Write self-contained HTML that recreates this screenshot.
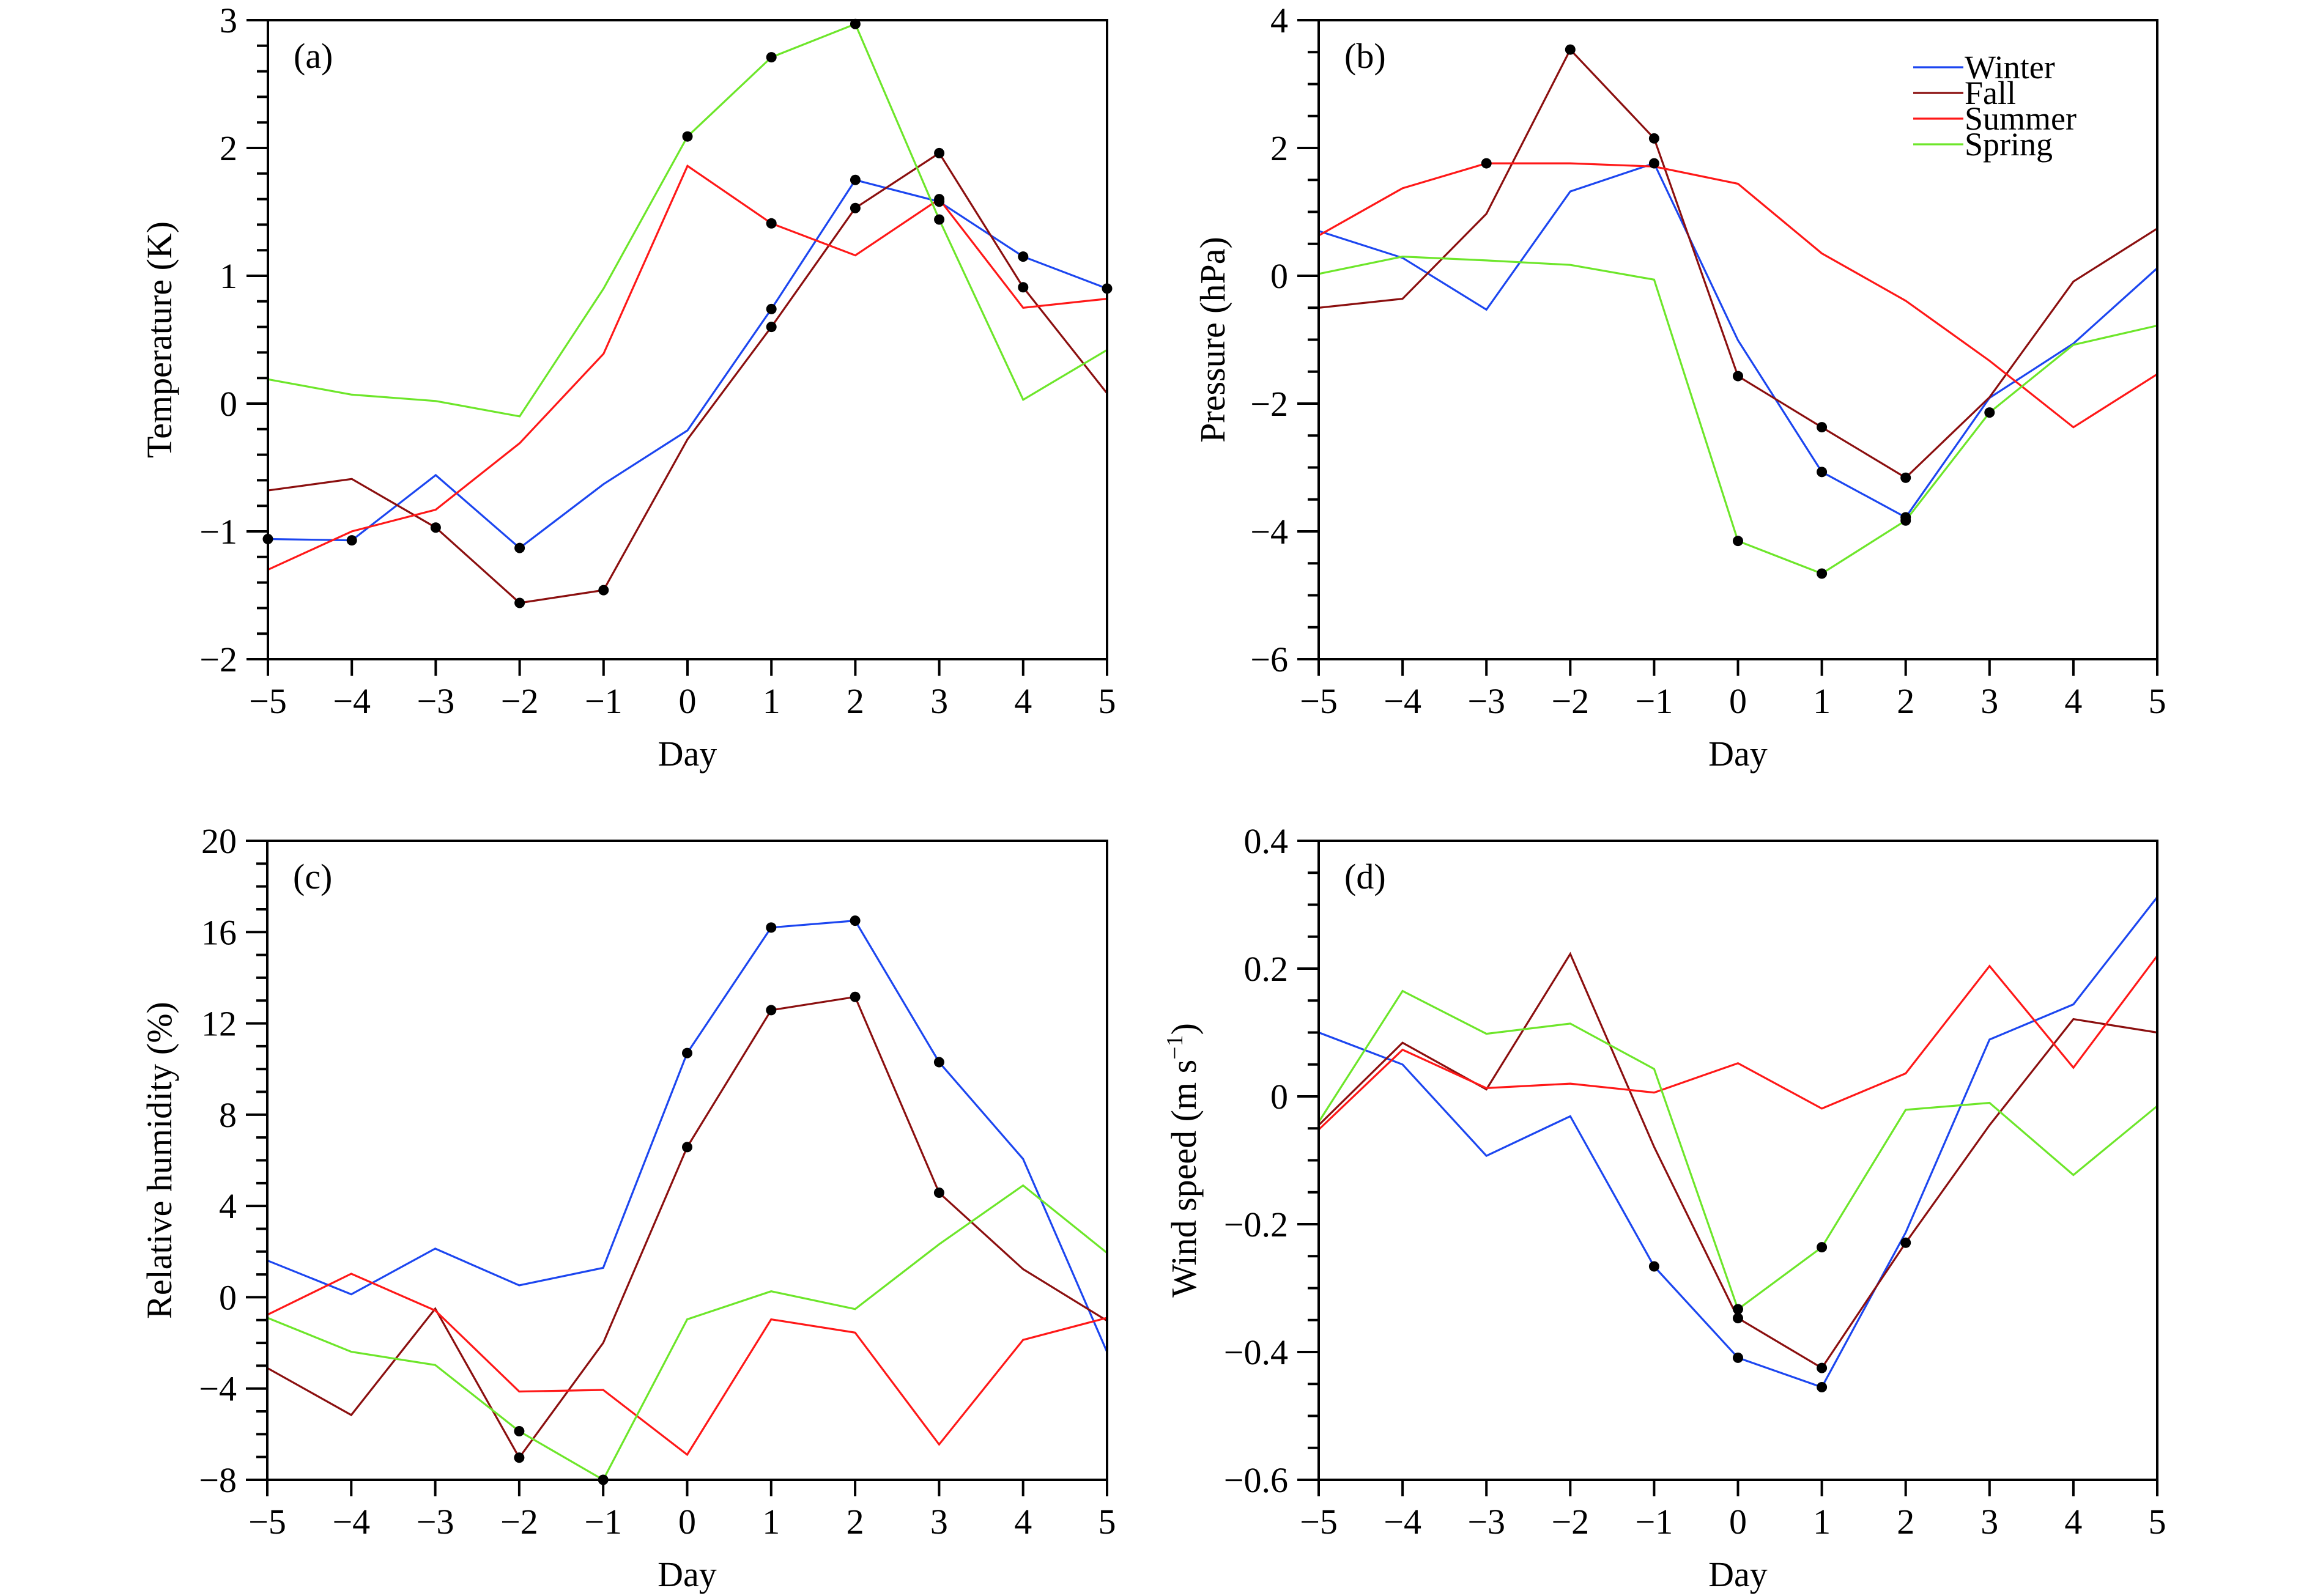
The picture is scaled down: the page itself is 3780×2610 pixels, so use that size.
<!DOCTYPE html>
<html><head><meta charset="utf-8"><style>
html,body{margin:0;padding:0;background:#fff}
svg{display:block}
text{font-family:"Liberation Serif","DejaVu Serif",serif;fill:#000}
</style></head>
<body>
<svg id="chart" width="3780" height="2610" viewBox="0 0 3780 2610" xmlns="http://www.w3.org/2000/svg"></svg>
<script>
const days = [-5,-4,-3,-2,-1,0,1,2,3,4,5];
const seasons = ["Winter","Fall","Summer","Spring"];
const colors = ["#1c46f0","#8b0f0f","#ff1818","#6de62a"];

const tempWinter = [-1.06,-1.07,-0.56,-1.13,-0.63,-0.21,0.74,1.75,1.58,1.15,0.90];
const tempFall   = [-0.68,-0.59,-0.97,-1.56,-1.46,-0.28,0.60,1.53,1.96,0.91,0.08];
const tempSummer = [-1.30,-1.00,-0.83,-0.31,0.39,1.86,1.41,1.16,1.60,0.75,0.82];
const tempSpring = [0.19,0.07,0.02,-0.10,0.90,2.09,2.71,2.97,1.44,0.03,0.42];
const tempDots = [[-5,-4,-2,1,2,3,4,5],[-3,-2,-1,1,2,3,4],[1,3],[0,1,2,3]];

const presWinter = [0.70,0.28,-0.53,1.32,1.76,-1.01,-3.07,-3.78,-1.91,-1.06,0.12];
const presFall   = [-0.50,-0.36,0.97,3.54,2.15,-1.57,-2.37,-3.16,-1.90,-0.09,0.74];
const presSummer = [0.63,1.37,1.76,1.76,1.71,1.44,0.35,-0.39,-1.33,-2.37,-1.54];
const presSpring = [0.03,0.30,0.24,0.17,-0.06,-4.15,-4.66,-3.83,-2.14,-1.08,-0.78];
const presDots = [[-1,1,2],[-2,-1,0,1,2],[-3],[0,1,2,3]];

const rhWinter = [1.61,0.13,2.13,0.52,1.29,10.7,16.2,16.5,10.3,6.06,-2.4];
const rhFall   = [-3.1,-5.16,-0.5,-7.03,-2.0,6.58,12.58,13.16,4.58,1.23,-1.03];
const rhSummer = [-0.77,1.03,-0.58,-4.13,-4.06,-6.9,-0.97,-1.55,-6.45,-1.87,-0.9];
const rhSpring = [-0.9,-2.39,-2.97,-5.87,-8.0,-0.97,0.26,-0.52,2.32,4.9,1.94];
const rhDots = [[0,1,2,3],[-2,0,1,2,3],[],[-2,-1]];

const wsWinter = [0.10,0.05,-0.093,-0.031,-0.266,-0.409,-0.455,-0.213,0.089,0.144,0.312];
const wsFall   = [-0.045,0.084,0.011,0.223,-0.079,-0.347,-0.425,-0.229,-0.045,0.121,0.100];
const wsSummer = [-0.052,0.073,0.013,0.020,0.006,0.052,-0.019,0.036,0.204,0.045,0.220];
const wsSpring = [-0.040,0.165,0.098,0.114,0.043,-0.333,-0.236,-0.021,-0.010,-0.123,-0.015];
const wsDots = [[-1,0,1],[0,1,2],[],[0,1]];

const tempTicks = ["3","2","1","0","−1","−2"];
const presTicks = ["4","2","0","−2","−4","−6"];
const rhTicks = ["20","16","12","8","4","0","−4","−8"];
const wsTicks = ["0.4","0.2","0","−0.2","−0.4","−0.6"];

const NS="http://www.w3.org/2000/svg";
const svg=document.getElementById('chart');
function mk(tag,attrs,parent){const e=document.createElementNS(NS,tag);for(const k in attrs)e.setAttribute(k,attrs[k]);(parent||svg).appendChild(e);return e;}

function panel(cfg){
  const g=mk('g',{});
  
  
  const L=cfg.x0,R=cfg.x1,T=cfg.y0,B=cfg.y1;
  const xs=d=>L+(d-days[0])/(days[days.length-1]-days[0])*(R-L);
  const ys=v=>T+(cfg.ymax-v)/(cfg.ymax-cfg.ymin)*(B-T);
  cfg.series.forEach((vals,si)=>{
    const pts=vals.map((v,i)=>xs(days[i]).toFixed(1)+','+ys(v).toFixed(1)).join(' ');
    const pl=mk('polyline',{points:pts,fill:'none',stroke:colors[si],'stroke-width':3.2,'stroke-linejoin':'miter'},g);
    
    
  });
  cfg.series.forEach((vals,si)=>{
    cfg.dots[si].forEach(d=>{
      const i=days.indexOf(d);
      const c=mk('circle',{cx:xs(d),cy:ys(vals[i]),r:8.5,fill:'#000'},g);
      
      
    });
  });
  const fr=mk('rect',{x:L,y:T,width:R-L,height:B-T,fill:'none',stroke:'#000','stroke-width':4},g);
  
  
  const n=cfg.yticks.length;
  for(let i=0;i<n;i++){
    const v=cfg.ymax-i*cfg.ystep;
    const y=ys(v);
    mk('line',{x1:L-35,x2:L,y1:y,y2:y,stroke:'#000','stroke-width':4},g);
    const t=mk('text',{x:L-50,y:y+20,'text-anchor':'end','font-size':58},g);
    t.textContent=cfg.yticks[i];
    
    
    if(i<n-1){
      for(let m=1;m<cfg.minor;m++){
        const ym=ys(v-m*cfg.ystep/cfg.minor);
        mk('line',{x1:L-18,x2:L,y1:ym,y2:ym,stroke:'#000','stroke-width':4},g);
      }
    }
  }
  days.forEach(d=>{
    const x=xs(d);
    mk('line',{x1:x,x2:x,y1:B,y2:B+27,stroke:'#000','stroke-width':4},g);
    const t=mk('text',{x:x,y:B+88,'text-anchor':'middle','font-size':58},g);
    t.textContent=d<0?'−'+(-d):String(d);
    
    
  });
  const xt=mk('text',{x:(L+R)/2,y:B+174,'text-anchor':'middle','font-size':58},g);
  xt.textContent='Day';
  
  
  const yt=mk('text',{x:0,y:0,'text-anchor':'middle','font-size':58,transform:`translate(${cfg.ytx},${(T+B)/2}) rotate(-90)`},g);
  yt.innerHTML=cfg.ytitle;
  
  
  const lb=mk('text',{x:L+42,y:T+78,'font-size':58},g);
  lb.textContent=cfg.label;
  
  
}

panel({name:'panel-a-temperature',x0:438,x1:1810,y0:33,y1:1078,ymax:3,ymin:-2,ystep:1,minor:5,yticks:tempTicks,
  series:[tempWinter,tempFall,tempSummer,tempSpring],dots:tempDots,ytitle:'Temperature (K)',ytx:280,label:'(a)'});
panel({name:'panel-b-pressure',x0:2156,x1:3527,y0:33,y1:1078,ymax:4,ymin:-6,ystep:2,minor:4,yticks:presTicks,
  series:[presWinter,presFall,presSummer,presSpring],dots:presDots,ytitle:'Pressure (hPa)',ytx:2002,label:'(b)'});
panel({name:'panel-c-relative-humidity',x0:437,x1:1810,y0:1375,y1:2420,ymax:20,ymin:-8,ystep:4,minor:4,yticks:rhTicks,
  series:[rhWinter,rhFall,rhSummer,rhSpring],dots:rhDots,ytitle:'Relative humidity (%)',ytx:280,label:'(c)'});
panel({name:'panel-d-wind-speed',x0:2156,x1:3527,y0:1375,y1:2420,ymax:0.4,ymin:-0.6,ystep:0.2,minor:4,yticks:wsTicks,
  series:[wsWinter,wsFall,wsSummer,wsSpring],dots:wsDots,ytitle:'Wind speed (m s<tspan dy="-22" font-size="38">−1</tspan><tspan dy="22">)</tspan>',ytx:1955,label:'(d)'});

const lg=mk('g',{});


seasons.forEach((s,i)=>{
  const y=110+i*42;
  const ln=mk('line',{x1:3128,x2:3210,y1:y,y2:y,stroke:colors[i],'stroke-width':3.2},lg);
  
  
  const t=mk('text',{x:3212,y:y+18,'font-size':54},lg);
  t.textContent=s;
  
  
});
</script>
</body></html>
